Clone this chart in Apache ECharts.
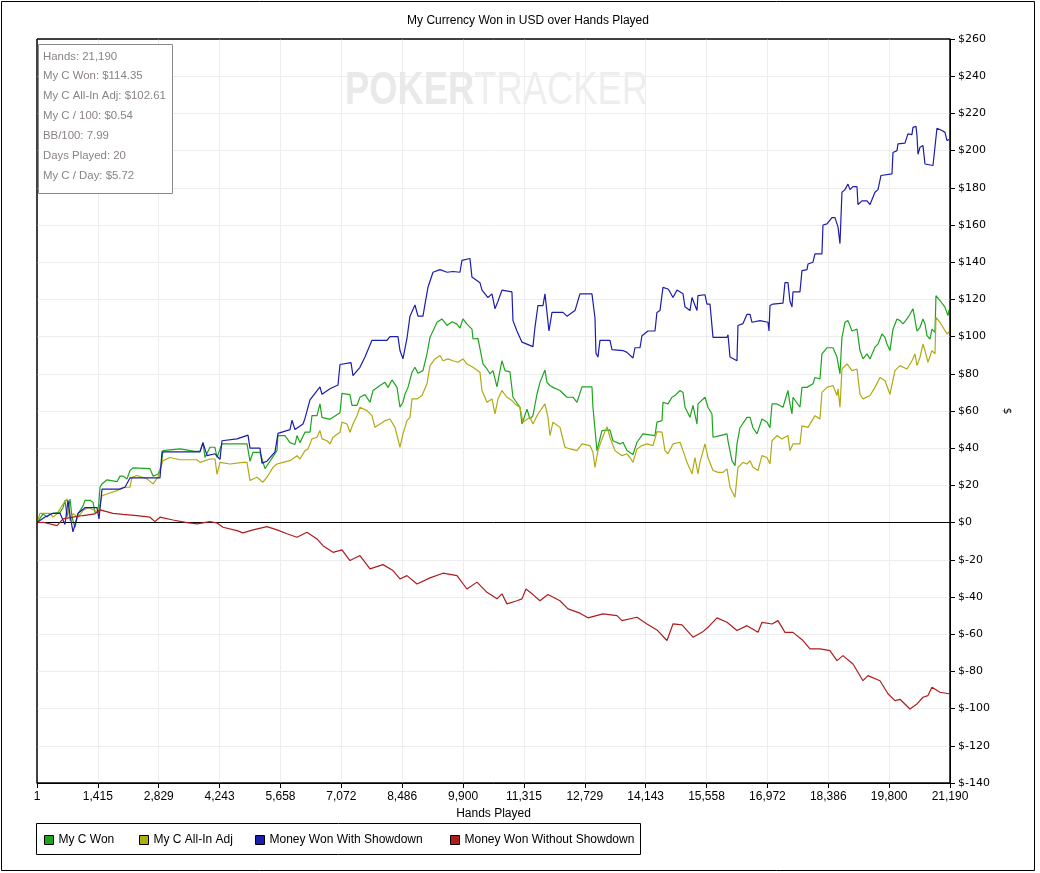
<!DOCTYPE html>
<html><head><meta charset="utf-8">
<script src="https://cdn.jsdelivr.net/npm/echarts@6/dist/echarts.min.js"></script>
<style>html,body{margin:0;padding:0;background:#fff}#c{width:1040px;height:873px}</style>
</head><body><div id="c"></div>
<script>
const titleText = 'My Currency Won in USD over Hands Played';
const seriesNames = ['My C Won', 'My C All-In Adj', 'Money Won With Showdown', 'Money Won Without Showdown'];
const tickLabels = ['1','1,415','2,829','4,243','5,658','7,072','8,486','9,900','11,315','12,729','14,143','15,558','16,972','18,386','19,800','21,190'];
const infoLines = ['Hands: 21,190','My C Won: $114.35','My C All-In Adj: $102.61','My C / 100: $0.54','BB/100: 7.99','Days Played: 20','My C / Day: $5.72'];
const handsMax = 21211;

const wonData = [[1,0],[140,4.7],[232,3],[302,4.7],[534,5.5],[604,8],[650,12],[697,3],[767,12.7],[813,3],[836,1],[883,-2.5],[953,4.7],[1069,9],[1115,12],[1231,12],[1301,11],[1347,5.5],[1418,5.5],[1464,19],[1510,20.8],[1626,23],[1858,22],[1928,25],[1998,25],[2091,23.5],[2160,28],[2230,29.4],[2625,29],[2695,25],[2811,26],[2881,30],[2927,38.7],[3322,39.6],[3670,38.3],[3787,38.3],[3856,43],[3903,35],[4019,40.5],[4135,40.5],[4182,35],[4251,39.6],[4298,42.3],[4879,42.3],[4948,33],[5018,37.8],[5180,37.8],[5297,29],[5413,33],[5575,38.7],[5599,46.8],[5761,46.8],[5877,43],[5994,42],[6040,46.8],[6110,43],[6226,48.6],[6342,48.6],[6388,57.5],[6505,57.5],[6574,63.8],[6621,56.6],[6806,55.5],[7039,59],[7085,69.5],[7271,68.8],[7318,63],[7434,63],[7503,67.4],[7620,68.8],[7736,64.7],[7806,71],[7968,73.7],[8084,75.4],[8154,72.7],[8247,76.7],[8363,72.7],[8433,62],[8502,64.7],[8549,69],[8619,72.7],[8712,80.8],[8781,83.5],[8851,80.3],[8967,81.7],[9060,90.7],[9130,99.6],[9200,103],[9292,107.7],[9408,109.5],[9525,106],[9641,108],[9757,106.7],[9827,104.6],[9896,109.5],[9989,106.7],[10105,104],[10129,98.7],[10245,99],[10361,85.3],[10454,82.6],[10524,80],[10594,81.7],[10686,73],[10756,81.7],[10802,87],[10873,81.7],[10988,81],[11058,67.4],[11220,62],[11267,53],[11384,61],[11453,55.7],[11522,57.5],[11615,69],[11685,75.4],[11801,82],[11848,75.4],[11917,73.7],[11987,72.7],[12150,71],[12312,67.4],[12452,67.4],[12545,64.7],[12661,73],[12893,73],[12916,62],[13009,38.7],[13032,37.8],[13125,49.5],[13311,49.8],[13381,44],[13544,42.3],[13614,43.2],[13706,38.7],[13846,36.6],[13939,43.2],[14078,47.7],[14357,46.8],[14403,54],[14520,54.8],[14543,64.7],[14659,63.8],[14752,67.4],[14822,68.3],[14938,71],[15008,70],[15054,62],[15170,56.6],[15240,63],[15333,53],[15356,63.8],[15519,67.4],[15588,62],[15681,58.4],[15705,45.9],[15867,46.8],[16030,47.7],[16053,44],[16146,33.3],[16216,30.6],[16262,42.3],[16332,51],[16495,56.6],[16565,56.6],[16634,51],[16727,47.7],[16843,55.7],[16959,54],[17029,51],[17075,63.8],[17192,63.8],[17331,62],[17447,71],[17493,63.8],[17540,58.4],[17563,67.4],[17725,62],[17772,72.7],[17888,72.7],[18027,74.6],[18074,78],[18190,77.3],[18236,90.7],[18353,94],[18492,94],[18585,89],[18609,89],[18655,80],[18701,99.6],[18771,107.7],[18841,108.6],[18934,103],[19050,104],[19120,92.5],[19189,88],[19283,90.7],[19352,88],[19468,94.3],[19538,96],[19631,101.4],[19701,99.6],[19747,96],[19816,92.5],[19886,104],[19979,109.5],[20049,108.6],[20119,106.8],[20212,109.5],[20281,112],[20351,115],[20397,115.8],[20444,103],[20514,105],[20583,109.5],[20630,106.8],[20676,100.5],[20746,98.7],[20792,104],[20862,102.3],[20885,122],[20978,119.4],[21094,115.8],[21164,111.3],[21190,114.35]];

const allInData = [[1,0],[70,5],[302,5],[372,3],[465,4.7],[604,10],[697,12.7],[767,1],[836,4.7],[953,3],[1069,6.5],[1185,8],[1347,6.5],[1418,5.5],[1510,14.5],[1626,15.4],[1858,17.2],[1998,19],[2160,19],[2207,24.4],[2323,25.3],[2556,23.5],[2695,20.8],[2811,24.4],[2927,33.3],[3090,35],[3322,33.8],[3718,33.8],[3787,32.4],[4019,34.2],[4135,34.2],[4182,26],[4251,32.4],[4484,31.5],[4786,32.4],[4879,32.4],[4948,22.6],[5111,24.4],[5250,21.7],[5343,24.4],[5483,29.7],[5575,31.5],[5715,32.4],[5877,33.3],[6040,36],[6110,34.2],[6226,38.7],[6295,39.6],[6388,45],[6505,45.9],[6574,49.5],[6621,45],[6737,44],[6806,42.3],[6876,45.9],[7039,48.6],[7085,54],[7202,53],[7271,48.6],[7341,53],[7434,57.5],[7503,62],[7667,60.2],[7782,57.5],[7852,51.2],[7968,53],[8084,54.8],[8200,55.7],[8317,51.2],[8433,40.5],[8502,47.7],[8595,54.8],[8665,56.6],[8712,66.5],[8828,66.5],[8944,68.3],[9060,74.6],[9130,84.4],[9246,88],[9362,89.8],[9432,87],[9549,88],[9665,87],[9781,86.2],[9896,88],[9989,85.3],[10129,83.5],[10291,80.8],[10338,71],[10454,64.7],[10570,66.5],[10640,58.4],[10710,66.5],[10802,71],[10918,67.4],[11034,65.6],[11105,63.8],[11220,62],[11290,54],[11453,56.6],[11522,53],[11638,58.4],[11801,63.8],[11871,56.6],[11917,46.8],[11987,54],[12150,51.2],[12266,40.5],[12382,39.6],[12545,38.7],[12661,42.3],[12847,41.4],[12916,37.8],[12963,29.7],[13032,38.7],[13125,45],[13242,51.6],[13311,45.9],[13428,38.7],[13590,36],[13706,37],[13776,35],[13846,32.4],[13939,39.6],[14055,41.4],[14171,42.3],[14311,41.4],[14403,48.9],[14520,48.6],[14589,38.7],[14659,37],[14775,42.3],[14938,43.2],[15008,38.7],[15100,32.4],[15217,26.2],[15286,35],[15356,26.2],[15402,32.4],[15519,42.3],[15588,35],[15705,28],[15821,27],[15937,27],[16030,28.9],[16100,19],[16216,13.6],[16285,29.7],[16402,32.4],[16495,31.5],[16565,33.3],[16634,29.7],[16750,28],[16843,36],[16959,35],[17029,31.5],[17075,44],[17192,46.8],[17308,45],[17447,46.8],[17493,38.7],[17563,42.3],[17725,42.3],[17772,52],[17912,51.2],[18074,57.5],[18190,55.7],[18236,70],[18353,72.7],[18492,73.7],[18585,68.3],[18609,71.9],[18655,62],[18701,82.6],[18818,85.3],[18934,81.7],[19050,82.6],[19120,69],[19189,66.5],[19352,68.3],[19468,72.7],[19584,78],[19701,76.3],[19816,69],[19932,81.7],[20049,84.4],[20212,82.6],[20327,87],[20397,90.7],[20444,84.4],[20514,88.9],[20583,96],[20630,92.5],[20699,86.2],[20792,92.5],[20862,90.7],[20885,110.4],[20978,107.7],[21141,101.4],[21190,102.61]];

const showdownData = [[1,0],[186,3],[372,5],[534,5],[650,-1],[720,12],[767,4],[836,-5],[953,5],[1115,8],[1394,8],[1440,2],[1510,18],[1928,18],[2044,19],[2160,24],[2857,24],[2904,38],[3787,38],[3856,43],[3950,36],[4135,37],[4251,34],[4298,44],[4646,45],[4902,47],[4948,40],[5180,40],[5227,32],[5343,33],[5529,38],[5599,48],[5877,50],[5924,55],[5994,50],[6179,53],[6226,56],[6342,66],[6574,73],[6621,69],[6806,72],[6993,74],[7039,85],[7295,86],[7341,79],[7503,83.5],[7620,89],[7782,98],[8131,98],[8200,100],[8386,100],[8433,92.5],[8502,88],[8595,99],[8665,111],[8781,117],[8851,111],[8967,111],[9014,117.5],[9083,126.5],[9200,134.6],[9362,136],[9525,134.6],[9665,135],[9827,134.6],[9873,141],[10059,142],[10105,132],[10291,129],[10338,125],[10477,121],[10570,123],[10640,115],[10710,119],[10802,125],[11034,124],[11058,108.6],[11150,103],[11267,97],[11522,94.6],[11569,105],[11638,116.7],[11755,116.7],[11801,123],[11848,113],[11894,103],[11964,113],[12220,113],[12312,111],[12499,114],[12614,123],[12893,123],[12963,110],[12986,91],[13032,89],[13079,98],[13311,98],[13358,93],[13614,92.5],[13706,91.5],[13846,88.5],[13892,94],[14009,94],[14055,100.5],[14194,103],[14357,103],[14403,113],[14473,114],[14543,126.5],[14659,125.6],[14706,124],[14775,121],[14868,125],[15008,123],[15054,116],[15170,114],[15217,121],[15333,114],[15356,122],[15519,122.5],[15565,117.5],[15635,117.5],[15705,99.6],[16030,99.6],[16053,101],[16100,89],[16262,87],[16285,106],[16402,107],[16495,112],[16565,112],[16611,107.7],[16797,108.6],[16982,107.7],[17006,103],[17029,116.7],[17099,117.5],[17331,118],[17377,129],[17447,129],[17493,119],[17540,116],[17563,124],[17725,124],[17772,135.5],[17888,136],[17912,139],[18027,140],[18074,144.5],[18236,144.5],[18260,160],[18353,160.6],[18469,164],[18539,164],[18609,159],[18655,150],[18701,177.6],[18771,179],[18841,182],[18888,179],[18957,180.6],[19050,180.6],[19073,171],[19166,173],[19283,173],[19352,171],[19398,170],[19468,177.6],[19538,179],[19584,179],[19607,186.6],[19863,187.5],[19886,199],[19979,200],[20002,203.6],[20165,204],[20234,209],[20327,208.6],[20351,212.5],[20421,213],[20444,208],[20467,198],[20514,201.8],[20583,202.7],[20630,192.8],[20816,192],[20862,191.4],[20908,212],[21025,210.8],[21094,209.8],[21141,205.4],[21190,206]];

const noShowdownData = [[1,0],[140,0.2],[465,-1.6],[604,2],[836,2.9],[1069,3.8],[1347,4.7],[1464,6.8],[1766,5],[1998,4.4],[2323,3.8],[2625,2.9],[2741,0.5],[2857,2.9],[3160,1.4],[3485,0],[3718,-0.7],[4019,0.5],[4182,-0.2],[4321,-2.5],[4646,-4.3],[4786,-5.5],[5018,-3.9],[5343,-2.2],[5575,-3.9],[5808,-6],[6040,-7.9],[6272,-5.2],[6505,-8.8],[6644,-12.4],[6876,-16],[7085,-14.7],[7271,-20.4],[7503,-17.7],[7736,-24.9],[8038,-22.6],[8270,-25.8],[8433,-30.3],[8595,-28.5],[8828,-33],[9130,-29.7],[9432,-27.2],[9757,-28.5],[9989,-35.7],[10222,-32],[10454,-37.5],[10686,-41],[10802,-38.3],[10918,-43.7],[11150,-42],[11267,-41],[11360,-35.7],[11522,-38.7],[11685,-42],[11871,-38.7],[12150,-42],[12336,-46.4],[12614,-48.7],[12800,-51.2],[13149,-49.1],[13474,-50],[13590,-52.7],[13939,-50.9],[14171,-54.5],[14403,-57.7],[14636,-63.4],[14775,-54.5],[14985,-55],[15240,-61.6],[15449,-59],[15588,-56.3],[15798,-51.2],[16030,-53.6],[16262,-58],[16495,-55.4],[16750,-59],[16843,-53.6],[17075,-54.5],[17214,-52.7],[17377,-59],[17563,-59],[17795,-63.4],[17958,-67.9],[18190,-67.9],[18422,-68.8],[18585,-74.2],[18725,-71.5],[18957,-76],[19189,-85],[19306,-82.3],[19584,-85],[19770,-92],[19932,-95.7],[20049,-95],[20281,-100.2],[20444,-97.5],[20583,-93.9],[20699,-93],[20792,-88.5],[20978,-91.2],[21190,-92]];

const colors = ['#1ea51e', '#b0aa14', '#1c1cae', '#b01c1c'];
const legendLefts = [44, 139, 255, 450];
const xInterval = handsMax / 15;

const chart = echarts.init(document.getElementById('c'));
const dataSets = [wonData, allInData, showdownData, noShowdownData];

const series = dataSets.map((d, i) => ({
  name: seriesNames[i], type: 'line', data: d, showSymbol: false, symbol: 'none',
  color: colors[i], lineStyle: { width: 1.2, color: colors[i] }, z: 3 + i,
  animation: false
}));
series[3].markLine = {
  silent: true, symbol: 'none', animation: false,
  label: { show: false },
  lineStyle: { color: '#000', type: 'solid', width: 1 },
  data: [{ yAxis: 0 }]
};

const infoGraphics = infoLines.map((t, i) => ({
  type: 'text', left: 43, top: 51 + i * 19.85, z: 20,
  style: { text: t, fill: '#8a8383', font: '11.4px "Liberation Sans", Arial, sans-serif' }
}));

chart.setOption({
  animation: false,
  grid: { left: 37, right: 90, top: 39, bottom: 90, show: true, borderColor: '#000', borderWidth: 1, backgroundColor: 'transparent' },
  xAxis: {
    type: 'value', min: 0, max: handsMax, interval: xInterval,
    name: 'Hands Played', nameLocation: 'middle', nameGap: 24,
    nameTextStyle: { color: '#000', fontSize: 12, fontFamily: 'Liberation Sans' },
    axisLine: { show: true, onZero: false, lineStyle: { color: '#000' } },
    axisTick: { show: true, length: 5, lineStyle: { color: '#000' } },
    axisLabel: {
      color: '#000', fontSize: 12, fontFamily: 'Liberation Sans', margin: 8,
      showMaxLabel: true, showMinLabel: true,
      formatter: v => tickLabels[Math.round(v / xInterval)] || ''
    },
    splitLine: { show: true, showMinLine: false, showMaxLine: false, lineStyle: { color: '#ededed' } }
  },
  yAxis: {
    type: 'value', position: 'right', min: -140, max: 260, interval: 20,
    name: '$', nameLocation: 'middle', nameGap: 50, nameRotate: -90,
    nameTextStyle: { color: '#000', fontSize: 11, fontFamily: 'DejaVu Sans' },
    axisLine: { show: true, onZero: false, lineStyle: { color: '#000' } },
    axisTick: { show: true, length: 5, lineStyle: { color: '#000' } },
    axisLabel: { color: '#000', fontSize: 11, fontFamily: 'DejaVu Sans', margin: 8, formatter: v => '$' + v },
    splitLine: { show: true, showMinLine: false, showMaxLine: false, lineStyle: { color: '#ededed' } }
  },
  legend: seriesNames.map((n, i) => ({
    data: [{ name: n, icon: 'rect', itemStyle: { color: colors[i], borderColor: '#000', borderWidth: 1 } }],
    left: legendLefts[i], top: 834, itemWidth: 9, itemHeight: 9, itemGap: 5, padding: 0,
    textStyle: { color: '#000', fontSize: 12, fontFamily: 'Liberation Sans' },
    selectedMode: false
  })),
  graphic: [
    { type: 'rect', shape: { x: 1.5, y: 1.5, width: 1033, height: 869 }, style: { fill: 'none', stroke: '#000', lineWidth: 1 }, z: 30, silent: true },
    { type: 'rect', shape: { x: 37, y: 39, width: 913, height: 744 }, style: { fill: 'none', stroke: '#000', lineWidth: 1 }, z: 15, silent: true },
    { type: 'text', x: 528, y: 15, style: { text: titleText, align: 'center', fill: '#000', font: '12px "Liberation Sans", Arial, sans-serif' }, z: 30 },
    { type: 'text', x: 345, y: 68, scaleX: 0.79, z: 1, style: { text: '{b|POKER}{n|TRACKER}', rich: {
        b: { fill: '#e9e9e9', font: 'bold 46px "Liberation Sans", sans-serif' },
        n: { fill: '#eeeeee', font: '46px "Liberation Sans", sans-serif' } } } },
    { type: 'rect', shape: { x: 38.5, y: 44.5, width: 134, height: 149 }, style: { fill: '#fff', stroke: '#8a8a8a', lineWidth: 1 }, z: 19 },
    ...infoGraphics,
    { type: 'rect', shape: { x: 36.5, y: 823.5, width: 604, height: 31 }, style: { fill: 'none', stroke: '#000', lineWidth: 1 }, z: 30 }
  ],
  series: series
});
</script></body></html>
